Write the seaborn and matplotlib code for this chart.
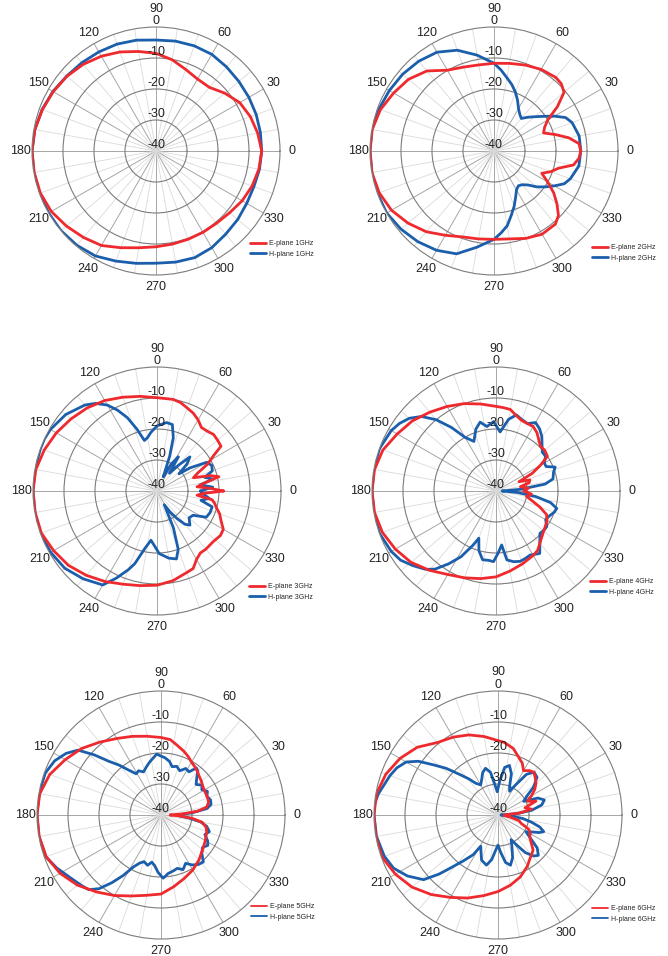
import numpy as np
import seaborn as sns
import matplotlib.pyplot as plt

# Radiation patterns, gain in dB (angle in degrees)
ang10 = list(range(0, 360, 10))

e1_ang = ang10
e1_db = [-5.9, -6.7, -7.6, -8.8, -11.0, -13.2, -13.2, -12.0, -10.1, -8.5,
         -7.4, -6.0, -4.7, -3.5, -2.5, -1.7, -1.0, -0.3, 0.0, -0.1,
         -0.3, -1.0, -2.3, -3.6, -4.8, -6.8, -8.3, -9.1, -9.5, -9.7,
         -9.7, -9.6, -9.0, -7.9, -7.0, -6.3]
h1_ang = ang10
h1_db = [-5.9, -5.8, -5.6, -5.4, -5.1, -4.6, -4.0, -3.9, -4.0, -4.2,
         -3.7, -3.3, -3.1, -2.8, -2.4, -1.6, -0.9, -0.3, 0.0, 0.0,
         0.0, 0.0, 0.0, -0.3, -0.9, -2.2, -3.2, -3.8, -3.6, -3.4,
         -4.0, -5.0, -5.6, -6.2, -6.4, -6.1]

e2_ang = [0, 5, 10, 15, 20, 25, 30, 35, 40, 45, 50, 60, 70, 80, 90, 100, 110, 120,
          130, 140, 150, 160, 170, 180, 190, 200, 210, 220, 230, 240, 250, 260, 270,
          280, 290, 300, 310, 315, 320, 325, 330, 335, 340, 345, 350, 355]
e2_db = [-12.0, -12.5, -15.5, -19.5, -23.0, -22.0, -20.0, -15.0, -10.5, -9.3, -9.0,
         -9.6, -10.5, -11.3, -11.7, -11.8, -11.2, -9.9, -6.3, -4.0, -2.6, -1.0, -0.1,
         0.0, 0.0, -0.6, -1.8, -3.8, -6.0, -8.6, -10.5, -11.2, -11.5, -11.2, -10.0,
         -9.0, -9.2, -10.6, -13.5, -16.5, -20.0, -23.0, -20.5, -18.5, -14.0, -12.5]
h2_ang = [0, 10, 20, 25, 30, 35, 40, 45, 50, 55, 60, 65, 70, 75, 80, 85, 90, 100,
          110, 120, 130, 140, 150, 160, 170, 180, 190, 200, 210, 220, 230, 240, 250,
          260, 270, 275, 280, 285, 290, 295, 300, 305, 310, 315, 320, 325, 330, 335,
          340, 350]
h2_db = [-12.0, -12.1, -13.2, -14.5, -17.5, -20.5, -22.8, -24.6, -26.3, -25.5, -24.2,
         -22.0, -19.8, -17.8, -16.0, -13.8, -11.7, -8.6, -5.4, -3.2, -2.2, -1.5, -1.0,
         -0.5, 0.0, 0.0, 0.0, 0.0, 0.0, -0.8, -1.8, -3.0, -4.7, -8.5, -11.5, -13.5,
         -15.5, -18.5, -21.0, -23.5, -25.5, -26.3, -25.8, -24.5, -22.0, -19.8, -17.5,
         -15.0, -13.8, -12.2]

e3_ang = [0, 3, 6, 10, 13, 16, 20, 24, 28, 32, 35, 40, 45, 50, 55, 60, 65, 70, 75,
          80, 90, 100, 110, 120, 130, 140, 150, 160, 170, 180, 190, 200, 210, 220,
          230, 240, 250, 260, 270, 280, 290, 295, 300, 305, 310, 318, 325, 330, 335,
          340, 344, 348, 351, 354, 357]
e3_db = [-18.5, -23.0, -27.0, -24.0, -19.5, -22.0, -27.5, -25.5, -21.5, -18.5, -14.8,
         -14.5, -14.2, -14.8, -15.0, -13.5, -12.3, -11.5, -10.5, -10.0, -9.9, -9.0,
         -7.8, -6.3, -5.0, -3.8, -2.5, -1.3, -0.3, 0.0, -0.1, -0.3, -1.5, -2.7, -4.5,
         -6.3, -8.0, -9.0, -9.6, -10.6, -12.0, -12.4, -14.5, -15.6, -15.5, -15.6,
         -15.0, -15.3, -17.2, -18.5, -20.0, -21.0, -22.0, -27.0, -25.0]
h3_ang = [0, 4, 8, 12, 16, 20, 25, 30, 35, 38, 42, 46, 50, 55, 58, 62, 66, 68, 70,
          73, 77, 82, 90, 96, 100, 104, 108, 112, 116, 120, 125, 130, 140, 150, 155,
          160, 170, 180, 190, 200, 210, 220, 230, 240, 245, 250, 253, 258, 263, 268,
          272, 280, 286, 290, 294, 298, 302, 306, 310, 314, 320, 326, 332, 338, 344,
          348, 352, 356]
h3_db = [-26.0, -22.0, -26.0, -21.5, -24.0, -21.0, -20.5, -21.5, -27.0, -31.0, -27.0,
         -24.7, -29.0, -33.0, -27.0, -30.0, -35.0, -33.0, -28.0, -22.0, -18.0, -17.7,
         -19.0, -21.0, -22.5, -23.2, -19.0, -14.5, -11.0, -8.0, -5.5, -3.8, -1.6,
         -0.3, 0.0, 0.0, 0.0, 0.0, 0.0, 0.0, -0.4, -1.2, -3.0, -5.0, -9.0, -13.0,
         -15.5, -21.0, -24.0, -22.0, -19.8, -18.0, -17.2, -20.0, -27.0, -35.0, -32.0,
         -29.0, -26.0, -24.7, -26.5, -26.0, -22.0, -21.5, -21.5, -25.5, -23.0, -25.0]

e4_ang = [0, 5, 10, 14, 18, 22, 26, 30, 34, 40, 45, 50, 55, 60, 65, 70, 75, 80, 85,
          90, 100, 110, 120, 130, 140, 150, 160, 170, 180, 190, 200, 210, 220, 230,
          240, 250, 260, 270, 280, 290, 300, 305, 310, 318, 325, 330, 335, 340, 345,
          350, 355]
e4_db = [-31.0, -29.5, -32.0, -29.0, -28.5, -32.0, -27.0, -23.5, -20.0, -19.5, -19.7,
         -18.5, -17.0, -16.0, -16.0, -15.8, -14.8, -13.3, -13.0, -12.7, -11.5, -10.0,
         -8.5, -6.8, -4.8, -3.2, -1.2, -0.2, 0.0, -0.2, -1.0, -2.5, -4.2, -6.6, -8.9,
         -10.2, -11.3, -12.3, -13.8, -15.0, -16.0, -16.6, -18.0, -19.6, -20.5, -21.0,
         -22.0, -25.0, -28.0, -30.0, -28.5]
h4_ang = [0, 4, 8, 12, 18, 22, 26, 30, 35, 40, 45, 50, 55, 60, 65, 70, 75, 80, 86,
          92, 98, 103, 108, 114, 120, 125, 130, 135, 140, 145, 150, 160, 170, 180,
          190, 200, 210, 216, 222, 228, 232, 237, 242, 247, 250, 254, 259, 264, 268,
          272, 276, 279, 284, 289, 294, 298, 305, 310, 316, 321, 325, 330, 335, 340,
          344, 348, 352, 356]
h4_db = [-38.0, -32.0, -24.0, -21.2, -20.5, -19.4, -22.0, -22.0, -20.5, -20.5, -19.0,
         -17.0, -15.5, -14.5, -16.0, -15.5, -14.6, -16.5, -20.9, -17.6, -19.0, -17.2,
         -19.0, -22.5, -20.0, -15.0, -10.0, -6.0, -3.5, -2.0, -1.0, 0.0, 0.0, 0.0,
         0.0, 0.0, -1.0, -2.0, -4.0, -6.0, -8.0, -12.0, -16.0, -21.0, -23.8, -20.0,
         -17.4, -17.5, -17.2, -20.0, -22.5, -17.5, -16.5, -16.0, -16.3, -16.6, -15.4,
         -18.0, -20.3, -20.0, -20.0, -21.5, -21.0, -20.0, -19.6, -22.0, -27.0, -33.0]

e5_ang = [0, 3, 6, 10, 15, 20, 25, 30, 35, 40, 45, 50, 55, 60, 65, 70, 77, 83, 90,
          100, 110, 120, 130, 140, 150, 160, 170, 180, 190, 200, 210, 220, 230, 240,
          250, 260, 270, 280, 290, 300, 310, 320, 330, 340, 345, 350, 354, 357]
e5_db = [-37.0, -33.0, -28.0, -25.0, -24.1, -24.0, -24.0, -23.9, -23.6, -23.0, -22.5,
         -21.7, -21.0, -20.3, -19.2, -18.2, -16.9, -15.5, -15.0, -14.2, -13.0, -11.5,
         -9.3, -6.6, -4.3, -1.8, -0.3, 0.0, -0.1, -0.6, -2.4, -4.8, -7.6, -10.0,
         -12.2, -13.7, -14.5, -16.5, -18.2, -19.5, -21.0, -22.5, -23.5, -24.3, -25.0,
         -26.5, -30.0, -34.0]
h5_ang = [0, 4, 8, 12, 17, 22, 27, 32, 36, 41, 46, 50, 53, 57, 62, 67, 72, 77, 81,
          86, 90, 94, 98, 102, 107, 112, 117, 121, 126, 130, 134, 138, 142, 147, 153,
          160, 170, 180, 190, 200, 207, 215, 222, 226, 230, 234, 238, 242, 246, 250,
          255, 259, 263, 267, 272, 277, 282, 287, 292, 297, 302, 307, 312, 317, 322,
          327, 331, 336, 341, 346, 350, 354, 357]
h5_db = [-35.0, -30.0, -25.0, -23.5, -23.3, -24.0, -23.2, -24.5, -23.6, -25.0, -23.4,
         -21.5, -21.0, -23.4, -23.0, -24.5, -23.5, -24.0, -22.5, -21.5, -21.0, -20.3,
         -21.5, -22.5, -23.8, -25.0, -24.0, -24.5, -22.0, -19.0, -16.0, -11.0, -6.0,
         -3.5, -1.5, -0.3, 0.0, 0.0, 0.0, -0.5, -2.3, -4.5, -5.8, -6.5, -9.0, -13.0,
         -17.0, -21.0, -23.0, -24.0, -23.2, -24.5, -23.5, -21.5, -19.6, -21.0, -21.5,
         -22.0, -21.0, -22.5, -21.0, -20.0, -19.6, -22.0, -23.0, -22.0, -22.8, -24.5,
         -23.5, -24.8, -27.0, -31.0, -34.0]

e6_ang = [0, 5, 10, 15, 20, 25, 30, 35, 40, 45, 50, 55, 60, 65, 70, 77, 85, 90, 100,
          110, 120, 130, 140, 150, 160, 170, 180, 190, 200, 210, 220, 230, 240, 250,
          260, 270, 280, 290, 300, 305, 310, 315, 320, 325, 330, 335, 340, 345, 350,
          355]
e6_db = [-38.0, -33.0, -29.0, -31.0, -27.0, -29.5, -27.5, -25.5, -24.0, -23.0, -22.0,
         -22.5, -23.5, -21.5, -20.3, -18.0, -16.5, -16.0, -14.3, -12.5, -11.0, -9.5,
         -6.0, -3.5, -1.5, -0.2, 0.0, 0.0, -0.2, -1.8, -3.8, -6.5, -9.3, -11.5, -13.6,
         -15.3, -17.0, -18.8, -21.0, -22.3, -23.2, -24.0, -26.0, -27.5, -28.0, -29.0,
         -32.0, -33.0, -36.0, -38.0]
h6_ang = [0, 4, 8, 13, 18, 23, 28, 33, 38, 44, 50, 55, 60, 64, 68, 72, 77, 82, 87,
          92, 96, 100, 105, 110, 115, 120, 125, 129, 133, 138, 142, 146, 150, 155,
          160, 170, 175, 180, 190, 200, 207, 214, 221, 225, 228, 233, 238, 241, 245,
          250, 257, 262, 266, 270, 274, 279, 284, 289, 294, 298, 302, 306, 311, 315,
          320, 325, 329, 333, 337, 340, 344, 348, 352, 356]
h6_db = [-39.0, -34.0, -29.0, -25.5, -24.3, -26.0, -30.6, -29.0, -25.5, -22.5, -21.9,
         -24.0, -29.0, -31.5, -30.0, -26.0, -23.6, -24.5, -29.0, -32.5, -30.0, -26.0,
         -24.4, -25.5, -27.5, -28.8, -27.5, -25.0, -22.3, -17.5, -13.8, -9.0, -5.8,
         -4.0, -2.9, -0.8, 0.0, 0.0, -0.2, -1.0, -2.2, -4.8, -8.2, -13.0, -16.9,
         -21.5, -24.9, -28.5, -27.0, -24.5, -23.4, -25.5, -28.5, -30.3, -28.0, -24.5,
         -23.3, -25.5, -29.0, -31.0, -28.5, -25.0, -22.5, -21.6, -23.5, -27.5, -29.5,
         -28.0, -25.5, -24.3, -26.0, -29.0, -32.0, -36.0]

freqs = ["1GHz", "2GHz", "3GHz", "4GHz", "5GHz", "6GHz"]
angle_labels = [str(a) for a in range(0, 360, 30)]
radial_labels = [-40, -30, -20, -10, 0]

e_curves = [(e1_ang, e1_db), (e2_ang, e2_db), (e3_ang, e3_db),
            (e4_ang, e4_db), (e5_ang, e5_db), (e6_ang, e6_db)]
h_curves = [(h1_ang, h1_db), (h2_ang, h2_db), (h3_ang, h3_db),
            (h4_ang, h4_db), (h5_ang, h5_db), (h6_ang, h6_db)]

# panel centres in pixels and legend anchors (top-left, pixels)
centres = [(156, 151), (494, 151), (157, 491), (496, 491), (161, 815), (498, 815)]
leg_pos = [(250, 240), (592, 244), (249, 583), (590, 578), (251, 903), (592, 905)]

RED = "#ee2a2e"
BLUE = "#1b5eab"

sns.set_theme(style="white")
plt.rcParams["font.family"] = ["Liberation Sans", "DejaVu Sans"]

W, H, R = 668, 956, 124
fig = plt.figure(figsize=(W / 100, H / 100), dpi=100)


def closed(ang, db):
    th = np.deg2rad(np.r_[ang, ang[0] + 360])
    return th, np.r_[db, db[0]]


for i in range(6):
    cx, cy = centres[i]
    ax = fig.add_axes([(cx - R) / W, 1 - (cy + R) / H, 2 * R / W, 2 * R / H],
                      projection="polar")
    ax.set_ylim(-40, 0)

    th, r = closed(*h_curves[i])
    sns.lineplot(x=th, y=r, sort=False, estimator=None, color=BLUE, lw=2.0,
                 label="H-plane " + freqs[i], ax=ax)
    th, r = closed(*e_curves[i])
    sns.lineplot(x=th, y=r, sort=False, estimator=None, color=RED, lw=2.0,
                 label="E-plane " + freqs[i], ax=ax)
    ax.set_xlabel("")
    ax.set_ylabel("")

    # grid
    ax.set_xticks(np.deg2rad(np.arange(0, 360, 30)))
    # the 90 label sits above the radial "0", drawn separately below
    ax.set_xticklabels([s if s != "90" else "" for s in angle_labels])
    ax.set_xticks(np.deg2rad(np.arange(0, 360, 10)), minor=True)
    ax.xaxis.grid(True, which="major", color="#a6a6a6", lw=0.7)
    ax.xaxis.grid(True, which="minor", color="#dadada", lw=0.6)
    ax.set_yticks([-30, -20, -10])
    ax.set_yticklabels([])
    ax.yaxis.grid(True, color="#7c7c7c", lw=0.8)
    ax.spines["polar"].set_color("#7c7c7c")
    ax.spines["polar"].set_linewidth(0.8)
    ax.tick_params(which="both", length=0)
    ax.tick_params(axis="x", labelsize=9, pad=1.5, colors="#222222")
    ax.annotate("90", xy=(np.pi / 2, 0), xytext=(0, 9), textcoords="offset points",
                ha="center", va="bottom", fontsize=9, color="#222222")

    for rv in radial_labels:
        ax.text(np.pi / 2, rv, str(rv), ha="center", va="bottom",
                fontsize=9, color="#222222")

    handles, labels = ax.get_legend_handles_labels()
    lx, ly = leg_pos[i]
    leg = ax.legend(handles[::-1], labels[::-1], loc="upper left",
                    bbox_to_anchor=(lx / W, 1 - ly / H), bbox_transform=fig.transFigure,
                    frameon=False, fontsize=5, handlelength=2.3, handletextpad=0.4,
                    borderpad=0, borderaxespad=0, labelspacing=0.55)
    if i >= 4:
        for ln in leg.get_lines():
            ln.set_linewidth(1.3)

fig.savefig("out.png", dpi=100, facecolor="white")
